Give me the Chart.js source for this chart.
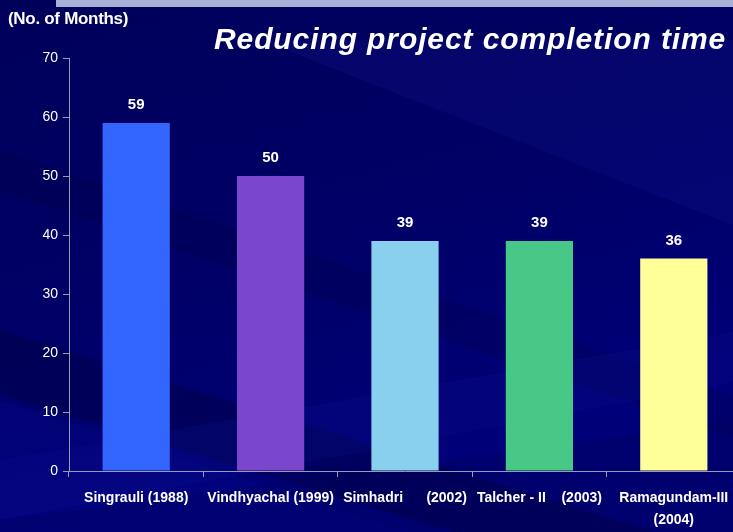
<!DOCTYPE html>
<html>
<head>
<meta charset="utf-8">
<script src="https://cdn.jsdelivr.net/npm/chart.js@4/dist/chart.umd.min.js"></script>
<style>
  html, body { margin: 0; padding: 0; width: 733px; height: 532px; overflow: hidden; background: #000066; }
  #wrap { position: relative; width: 745px; height: 532px; }
  #c { position: absolute; left: 0; top: 0; }
  .t { position: absolute; color: #ffffff; white-space: nowrap; }
  #title { left: 214px; top: 22px; font: italic bold 30px 'Liberation Sans', Arial, sans-serif; letter-spacing: 0.9px; }
  #ytitle { left: 8px; top: 9px; font: bold 17px 'Liberation Sans Narrow', 'Arial Narrow', 'Liberation Sans', sans-serif; letter-spacing: -0.3px; }
</style>
</head>
<body>
<div id="wrap">
  <canvas id="c" width="745" height="532"></canvas>
  <div class="t" id="ytitle">(No. of Months)</div>
  <div class="t" id="title">Reducing project completion time</div>
</div>
<script>
const categories = [
  "Singrauli (1988)",
  "Vindhyachal (1999)",
  "Simhadri      (2002)",
  "Talcher - II    (2003)",
  ["Ramagundam-III", "(2004)"]
];
const months = [59, 50, 39, 39, 36];
const barColors = ["#3366ff", "#7a47cc", "#88d0ee", "#48c886", "#ffff99"];
const yTicks = [0, 10, 20, 30, 40, 50, 60, 70];

const narrow = "'Liberation Sans Narrow', 'Arial Narrow', 'Liberation Sans', sans-serif";

const bgPlugin = {
  id: 'bg',
  beforeDraw(chart) {
    const ctx = chart.ctx, w = chart.width, h = chart.height;
    ctx.save();
    const g = ctx.createLinearGradient(0, 0, 150, h);
    g.addColorStop(0, '#00005a');
    g.addColorStop(0.55, '#000066');
    g.addColorStop(1, '#000078');
    ctx.fillStyle = g;
    ctx.fillRect(0, 0, w, h);
    const bands = [
      [[260, 40], [w, 40], [w, 230], 'rgba(20,20,140,0.25)'],
      [[0, 150], [w, 400], [w, 440], [0, 190], 'rgba(0,0,40,0.15)'],
      [[0, 330], [w, 560], [w, 620], [0, 395], 'rgba(0,0,40,0.28)'],
      [[0, 400], [w, 640], [0, 640], 'rgba(10,10,150,0.22)'],
      [[0, 460], [w, 330], [w, 380], [0, 520], 'rgba(15,20,150,0.18)'],
      [[0, 520], [w, 420], [w, h], [0, h], 'rgba(0,0,60,0.15)']
    ];
    for (const b of bands) {
      ctx.beginPath();
      const pts = b.slice(0, -1);
      ctx.moveTo(pts[0][0], pts[0][1]);
      for (let i = 1; i < pts.length; i++) ctx.lineTo(pts[i][0], pts[i][1]);
      ctx.closePath();
      ctx.fillStyle = b[b.length - 1];
      ctx.fill();
    }
    ctx.fillStyle = '#a8b0d8';
    ctx.fillRect(56, 0, w - 56, 7);
    ctx.restore();
  }
};

const valuePlugin = {
  id: 'values',
  afterDatasetsDraw(chart) {
    const ctx = chart.ctx;
    const meta = chart.getDatasetMeta(0);
    ctx.save();
    ctx.fillStyle = '#ffffff';
    ctx.font = 'bold 15px ' + narrow;
    ctx.textAlign = 'center';
    ctx.textBaseline = 'middle';
    meta.data.forEach((el, i) => {
      ctx.fillText(String(months[i]), el.x, el.y - 18);
    });
    ctx.restore();
  }
};

new Chart(document.getElementById('c'), {
  type: 'bar',
  data: {
    labels: categories,
    datasets: [{
      data: months,
      backgroundColor: barColors,
      borderWidth: 0,
      categoryPercentage: 1.0,
      barPercentage: 0.5
    }]
  },
  options: {
    responsive: false,
    animation: false,
    devicePixelRatio: 1,
    layout: { padding: { top: 58, left: 0, right: 4, bottom: 0 } },
    plugins: { legend: { display: false }, tooltip: { enabled: false }, title: { display: false } },
    scales: {
      x: {
        grid: { drawOnChartArea: false, color: '#9a9ab0', tickLength: 6, offset: true },
        border: { color: '#9a9ab0', width: 1 },
        ticks: { color: '#ffffff', font: { family: narrow, size: 14, weight: 'bold', lineHeight: 1.6 }, padding: 10, maxRotation: 0, autoSkip: false },
        afterFit(scale) { scale.height = 61; }
      },
      y: {
        min: 0, max: 70,
        afterBuildTicks(scale) { scale.ticks = yTicks.map(v => ({ value: v })); },
        grid: { drawOnChartArea: false, color: '#9a9ab0', tickLength: 6 },
        border: { color: '#9a9ab0', width: 1 },
        ticks: { color: '#ffffff', font: { family: narrow, size: 14 }, padding: 5 },
        afterFit(scale) { scale.width = 69; }
      }
    }
  },
  plugins: [bgPlugin, valuePlugin]
});
</script>
</body>
</html>
